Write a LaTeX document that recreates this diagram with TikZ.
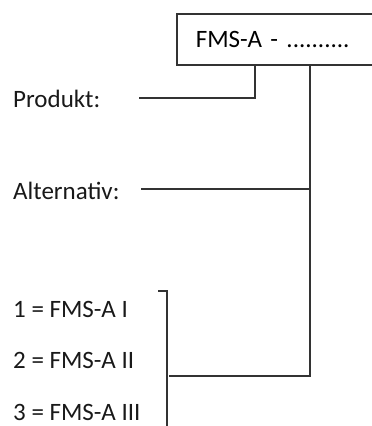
\documentclass[tikz,border=0pt]{standalone}
\usepackage{fontspec}
\setmainfont{Carlito}
\usepackage{tikz}

\begin{document}
\begin{tikzpicture}[x=1pt,y=1pt,
    lbl/.style={anchor=base west, inner sep=0pt, font=\fontsize{25}{30}\selectfont, text=black!90},
    con/.style={line width=1.6pt, draw=black!80}]
			\clip (0,0) rectangle (372,-426);
			\useasboundingbox (0,0) rectangle (372,-426);
			\node[con, draw, rectangle, anchor=north west, minimum height=50.7, text width=200, inner xsep=19, align=left, font=\fontsize{25}{30}\selectfont] (code) at (176,-13.3) {FMS-A - ..........};
			\node[lbl] (prod) at (13,-107.5) {Produkt:};
			\node[lbl] (alt) at (13,-199.5) {Alternativ:};
			\node[lbl] (alt1) at (13,-317.3) {1 = FMS-A I};
			\node[lbl] (alt2) at (13,-368.3) {2 = FMS-A II};
			\node[lbl] (alt3) at (13,-420) {3 = FMS-A III};
			\coordinate (prodend) at (139,-98);
			\coordinate (altend) at (141,-189);
			\coordinate (trunk) at (310,-189);
			\coordinate (grpend) at (169,-375.7);
			\draw[con] ([xshift=79]code.south west) |- (prodend);
			\draw[con] ([xshift=134]code.south west) |- (grpend);
			\draw[con] (altend) -- (trunk);
			\draw[con] (158,-291) -- (167,-291) -- (167,-430);
		\end{tikzpicture}
\end{document}
